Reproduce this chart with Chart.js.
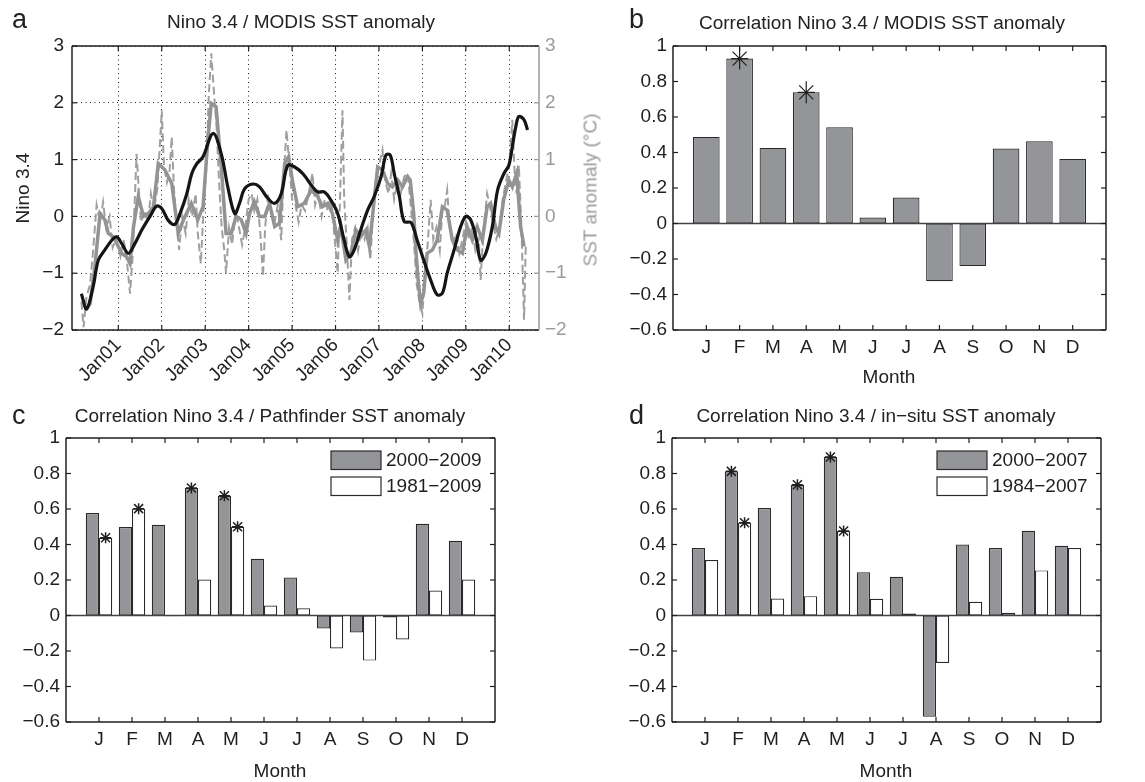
<!DOCTYPE html>
<html>
<head>
<meta charset="utf-8">
<title>Nino 3.4 and SST anomaly correlations</title>
<script src="https://cdn.jsdelivr.net/npm/chart.js@4.4.1/dist/chart.umd.min.js"></script>
<style>
  html, body { margin: 0; padding: 0; background: #fff; }
  #fig { position: relative; width: 1145px; height: 782px; overflow: hidden;
         font-family: "Liberation Sans", Arial, sans-serif; color: #222; }
  #fig canvas { position: absolute; left: 0; top: 0; }
  .txt { position: absolute; white-space: nowrap; font-size: 19px; line-height: 1; }
  .ctr { transform: translateX(-50%); }
  .letter { position: absolute; font-size: 27px; line-height: 1; }
  .vert { position: absolute; white-space: nowrap; font-size: 19px; line-height: 1;
          transform: translate(-50%, -50%) rotate(-90deg); }
</style>
</head>
<body>
<div id="fig">
  <canvas id="cA" width="1145" height="782"></canvas>
  <canvas id="cB" width="1145" height="782"></canvas>
  <canvas id="cC" width="1145" height="782"></canvas>
  <canvas id="cD" width="1145" height="782"></canvas>

  <div class="letter" style="left:12px; top:6px;">a</div>
  <div class="letter" style="left:629px; top:6px;">b</div>
  <div class="letter" style="left:12px; top:402px;">c</div>
  <div class="letter" style="left:629px; top:402px;">d</div>

  <div class="txt ctr" style="left:301px; top:12px;">Nino 3.4 / MODIS SST anomaly</div>
  <div class="txt ctr" style="left:882px; top:13px;">Correlation Nino 3.4 / MODIS SST anomaly</div>
  <div class="txt ctr" style="left:270px; top:406px;">Correlation Nino 3.4 / Pathfinder SST anomaly</div>
  <div class="txt ctr" style="left:876px; top:406px;">Correlation Nino 3.4 / in&minus;situ SST anomaly</div>

  <div class="vert" style="left:21.5px; top:188px;">Nino 3.4</div>
  <div class="vert" style="left:590px; top:190px; color:#9a9a9a;">SST anomaly (&deg;C)</div>

  <div class="txt ctr" style="left:889px; top:367px;">Month</div>
  <div class="txt ctr" style="left:280px; top:761px;">Month</div>
  <div class="txt ctr" style="left:886px; top:761px;">Month</div>
</div>

<script>
// ---------- panel a: time series ----------
const yearLabels = ['Jan01','Jan02','Jan03','Jan04','Jan05','Jan06','Jan07','Jan08','Jan09','Jan10'];
const yearTicks  = [2001, 2002, 2003, 2004, 2005, 2006, 2007, 2008, 2009, 2010];
const anomTicks  = [-2, -1, 0, 1, 2, 3];

// Nino 3.4 index (decimal year, value)
const ninoT = [2000.15,2000.27,2000.42,2000.54,2000.69,2000.85,2000.96,2001.08,2001.23,2001.38,
               2001.54,2001.73,2001.88,2002.00,2002.15,2002.30,2002.42,2002.57,2002.69,2002.80,
               2002.95,2003.18,2003.37,2003.52,2003.68,2003.79,2003.91,2004.10,2004.25,2004.44,
               2004.60,2004.75,2004.90,2005.06,2005.25,2005.47,2005.59,2005.74,2005.89,2006.05,
               2006.20,2006.32,2006.43,2006.58,2006.74,2006.89,2007.05,2007.16,2007.26,2007.35,
               2007.47,2007.58,2007.74,2007.88,2008.03,2008.19,2008.34,2008.46,2008.57,2008.73,
               2008.88,2009.00,2009.11,2009.23,2009.34,2009.46,2009.61,2009.73,2009.88,2009.99,
               2010.07,2010.15,2010.22,2010.34,2010.42];
const ninoV = [-1.36,-1.63,-1.24,-0.77,-0.59,-0.42,-0.36,-0.48,-0.65,-0.48,
               -0.24,0.00,0.18,0.14,-0.07,-0.14,0.05,0.38,0.75,0.92,
               1.05,1.46,1.10,0.52,0.05,0.23,0.49,0.57,0.52,0.32,
               0.23,0.40,0.90,0.87,0.75,0.52,0.43,0.43,0.29,0.05,
               -0.42,-0.71,-0.59,-0.24,0.11,0.35,0.70,1.08,1.08,0.76,
               0.35,-0.09,-0.11,-0.42,-0.77,-1.12,-1.38,-1.35,-1.00,-0.59,
               -0.18,0.00,-0.06,-0.36,-0.77,-0.65,-0.18,0.46,0.76,0.90,
               1.23,1.58,1.76,1.70,1.52];

// MODIS SST anomaly, smoothed (decimal year, degC)
const sstT = [2000.25,2000.35,2000.46,2000.58,2000.69,2000.77,2000.89,2001.00,2001.08,2001.19,
              2001.27,2001.35,2001.46,2001.58,2001.69,2001.81,2001.92,2002.07,2002.23,2002.38,
              2002.50,2002.68,2002.83,2002.95,2003.06,2003.14,2003.25,2003.37,2003.48,2003.60,
              2003.71,2003.83,2003.94,2004.02,2004.13,2004.25,2004.37,2004.48,2004.60,2004.71,
              2004.83,2004.92,2005.02,2005.13,2005.28,2005.44,2005.59,2005.70,2005.82,2005.93,
              2006.05,2006.12,2006.24,2006.35,2006.47,2006.58,2006.70,2006.78,2006.89,2006.97,
              2007.08,2007.20,2007.31,2007.43,2007.54,2007.66,2007.72,2007.80,2007.85,2007.90,
              2007.96,2008.03,2008.11,2008.23,2008.34,2008.46,2008.57,2008.69,2008.80,2008.92,
              2009.03,2009.15,2009.26,2009.38,2009.49,2009.57,2009.68,2009.76,2009.87,2009.99,
              2010.07,2010.17,2010.26,2010.34];
const sstV = [-1.65,-1.54,-0.89,0.05,-0.06,-0.30,-0.36,-0.53,-0.65,-0.71,
              -0.83,-0.18,0.35,0.00,0.05,0.17,0.93,0.82,0.58,-0.30,
              -0.06,0.23,-0.06,0.17,1.34,1.99,1.93,0.87,-0.30,-0.30,
              0.00,-0.06,-0.30,0.05,0.26,0.00,0.00,0.23,-0.18,-0.12,
              0.93,1.05,0.58,0.17,0.23,0.46,0.35,0.17,0.23,0.05,
              -0.42,-0.18,-0.77,-0.65,-0.24,-0.36,-0.24,-0.53,0.29,0.87,
              0.82,0.58,0.52,0.64,0.52,0.70,0.64,0.05,-0.60,-1.10,
              -1.53,-1.35,-0.65,-0.59,-0.42,0.17,0.11,-0.42,-0.59,-0.65,
              -0.18,-0.42,-0.18,-0.42,0.17,0.23,-0.18,-0.30,0.29,0.64,
              0.52,0.76,-0.18,-0.53];

// MODIS SST anomaly, unsmoothed (decimal year, degC)
const rawT = [2000.15,2000.20,2000.27,2000.35,2000.42,2000.50,2000.58,2000.65,2000.72,2000.80,
              2000.87,2000.95,2001.05,2001.12,2001.20,2001.27,2001.33,2001.38,2001.42,2001.47,
              2001.52,2001.60,2001.68,2001.75,2001.82,2001.90,2001.96,2002.00,2002.05,2002.12,
              2002.18,2002.23,2002.28,2002.35,2002.40,2002.47,2002.55,2002.62,2002.70,2002.78,
              2002.83,2002.90,2002.96,2003.03,2003.08,2003.14,2003.20,2003.26,2003.32,2003.38,
              2003.44,2003.48,2003.55,2003.62,2003.70,2003.78,2003.85,2003.92,2004.00,2004.07,
              2004.13,2004.20,2004.27,2004.33,2004.38,2004.45,2004.52,2004.60,2004.67,2004.75,
              2004.80,2004.87,2004.93,2005.00,2005.08,2005.15,2005.22,2005.30,2005.38,2005.47,
              2005.53,2005.60,2005.68,2005.75,2005.82,2005.90,2005.97,2006.05,2006.10,2006.16,
              2006.20,2006.26,2006.32,2006.38,2006.45,2006.52,2006.60,2006.67,2006.74,2006.80,
              2006.86,2006.92,2007.00,2007.08,2007.15,2007.22,2007.28,2007.35,2007.42,2007.50,
              2007.58,2007.66,2007.72,2007.80,2007.87,2007.93,2008.00,2008.06,2008.12,2008.19,
              2008.25,2008.32,2008.40,2008.46,2008.52,2008.57,2008.63,2008.70,2008.78,2008.85,
              2008.92,2009.00,2009.07,2009.14,2009.22,2009.30,2009.34,2009.40,2009.49,2009.55,
              2009.62,2009.70,2009.78,2009.85,2009.92,2010.00,2010.07,2010.12,2010.17,2010.22,
              2010.28,2010.34,2010.38];
const rawV = [-1.50,-1.95,-1.40,-1.20,-0.60,0.20,-0.10,0.25,-0.20,0.00,
              -0.55,-0.40,-0.70,-0.40,-0.80,-1.36,-0.70,0.30,1.10,0.50,
              -0.10,0.10,-0.10,0.40,0.10,0.50,1.30,1.87,0.90,0.60,
              0.80,1.40,0.50,-0.20,-0.59,0.00,-0.30,0.30,0.00,0.40,
              -0.30,-0.83,0.10,0.90,2.10,2.87,2.20,1.60,0.60,-0.20,
              -0.60,-1.00,-0.20,-0.50,0.10,-0.20,-0.50,-0.20,0.30,0.40,
              0.10,0.30,-0.30,-1.06,-0.20,0.40,0.10,-0.10,0.20,-0.42,
              0.60,1.52,1.00,0.30,0.20,-0.10,0.20,0.10,0.40,0.76,
              0.20,0.40,0.00,0.30,0.10,0.30,-0.30,-1.00,0.20,1.87,
              0.30,-0.50,-1.47,-0.40,-0.20,-0.60,-0.20,-0.40,-0.20,-0.77,
              0.00,0.60,0.90,1.17,0.60,0.40,0.75,0.30,0.60,0.40,
              0.70,0.76,0.30,-0.40,-1.20,-1.50,-1.71,-1.00,-0.50,0.29,
              -0.40,-0.20,-0.60,0.10,0.20,0.46,-0.20,-0.50,-0.30,-0.65,
              -0.40,-0.10,-0.40,-0.20,-0.60,-0.40,-1.12,-0.30,0.40,0.20,
              -0.10,-0.40,-0.20,0.30,0.60,0.90,1.70,0.80,0.40,0.90,
              -0.20,-1.82,-0.50];

// ---------- panels b-d: monthly correlations ----------
const months    = ['J','F','M','A','M','J','J','A','S','O','N','D'];
const corrTicks = [-0.6, -0.4, -0.2, 0, 0.2, 0.4, 0.6, 0.8, 1];

const corrModis      = [0.488, 0.929, 0.426, 0.739, 0.542, 0.034, 0.146, -0.325, -0.240, 0.422, 0.463, 0.364];
const sigModis       = [1, 3];

const corrPath0009   = [0.577, 0.498, 0.511, 0.718, 0.675, 0.320, 0.214, -0.073, -0.096, -0.011, 0.517, 0.421];
const corrPath8109   = [0.438, 0.602, -0.004, 0.203, 0.500, 0.056, 0.041, -0.186, -0.254, -0.135, 0.141, 0.203];
const sigPath0009    = [3, 4];
const sigPath8109    = [0, 1, 4];

const corrInsitu0007 = [0.380, 0.812, 0.605, 0.737, 0.893, 0.244, 0.218, -0.570, 0.400, 0.380, 0.477, 0.393];
const corrInsitu8407 = [0.312, 0.523, 0.096, 0.109, 0.476, 0.094, 0.011, -0.267, 0.077, 0.015, 0.254, 0.380];
const sigInsitu0007  = [1, 3, 4];
const sigInsitu8407  = [1, 4];

// ---------- shared styling ----------
const FONT = '"Liberation Sans", Arial, sans-serif';
const INK = '#1f1f1f';
const GREY_AXIS = '#9a9a9a';
const BAR_GREY = '#939598';
const BAR_EDGE = '#2a2a2a';

Chart.defaults.font.family = FONT;
Chart.defaults.font.size = 19;
Chart.defaults.color = INK;

function fmtTick(v) {
  const r = Math.round(v * 10) / 10;
  const s = Number.isInteger(r) ? String(r) : r.toFixed(1);
  return s.replace('-', '\u2212');
}
function pairs(ts, vs) { return ts.map((t, i) => ({ x: t, y: vs[i] })); }
function monthly(vs) { return vs.map((v, i) => ({ x: i + 1, y: v })); }

function seg(ctx, x1, y1, x2, y2, color, w) {
  ctx.strokeStyle = color; ctx.lineWidth = w;
  ctx.beginPath(); ctx.moveTo(x1, y1); ctx.lineTo(x2, y2); ctx.stroke();
}

function asterisk(ctx, x, y, s) {
  ctx.strokeStyle = INK; ctx.lineWidth = s.w;
  ctx.beginPath();
  ctx.moveTo(x, y - s.v); ctx.lineTo(x, y + s.v);
  ctx.moveTo(x - s.h, y); ctx.lineTo(x + s.h, y);
  ctx.moveTo(x - s.d, y - s.d); ctx.lineTo(x + s.d, y + s.d);
  ctx.moveTo(x - s.d, y + s.d); ctx.lineTo(x + s.d, y - s.d);
  ctx.stroke();
}

// Axes box with inward ticks, zero baseline, significance asterisks and legend
const axesDeco = {
  id: 'axesDeco',
  afterDatasetsDraw(chart, args, o) {
    const { ctx, chartArea: a, scales } = chart;
    const L = 5;
    ctx.save();
    ctx.lineCap = 'butt';
    if (o.zero) {
      const y0 = scales.y.getPixelForValue(0);
      seg(ctx, a.left, y0, a.right, y0, o.zero, 1.5);
    }
    scales.x.ticks.forEach(t => {
      const x = scales.x.getPixelForValue(t.value);
      seg(ctx, x, a.bottom, x, a.bottom - L, INK, 1.2);
      seg(ctx, x, a.top, x, a.top + L, INK, 1.2);
    });
    scales.y.ticks.forEach(t => {
      const y = scales.y.getPixelForValue(t.value);
      seg(ctx, a.left, y, a.left + L, y, INK, 1.2);
    });
    const rScale = scales.y2 || scales.y;
    const rColor = o.rightColor || INK;
    rScale.ticks.forEach(t => {
      const y = rScale.getPixelForValue(t.value);
      seg(ctx, a.right, y, a.right - L, y, rColor, 1.2);
    });
    seg(ctx, a.left, a.top, a.right, a.top, INK, 1.5);
    seg(ctx, a.left, a.bottom, a.right, a.bottom, INK, 1.5);
    seg(ctx, a.left, a.top, a.left, a.bottom, INK, 1.5);
    seg(ctx, a.right, a.top, a.right, a.bottom, rColor, 1.5);

    if (o.star) {
      chart.data.datasets.forEach((ds, di) => {
        if (!ds.sig) return;
        const meta = chart.getDatasetMeta(di);
        ds.sig.forEach(j => { const el = meta.data[j]; asterisk(ctx, el.x, el.y, o.star); });
      });
    }
    if (o.legend) {
      const x0 = a.right - 164;
      chart.data.datasets.forEach((ds, i) => {
        const y0 = a.top + 13 + i * 26;
        ctx.fillStyle = ds.backgroundColor;
        ctx.fillRect(x0, y0, 50, 18.5);
        ctx.strokeStyle = BAR_EDGE; ctx.lineWidth = 1.2;
        ctx.strokeRect(x0, y0, 50, 18.5);
        ctx.fillStyle = INK;
        ctx.font = '19px ' + FONT;
        ctx.textAlign = 'left'; ctx.textBaseline = 'middle';
        ctx.fillText(ds.label, x0 + 55, y0 + 9.5);
      });
    }
    ctx.restore();
  }
};
Chart.register(axesDeco);

// ---------- panel a ----------
new Chart(document.getElementById('cA'), {
  type: 'line',
  data: {
    datasets: [
      { label: 'Nino 3.4', data: pairs(ninoT, ninoV), yAxisID: 'y',
        borderColor: '#151515', borderWidth: 3.2, pointRadius: 0, tension: 0.35 },
      { label: 'SST anomaly', data: pairs(sstT, sstV), yAxisID: 'y2',
        borderColor: '#939393', borderWidth: 3.5, pointRadius: 0, tension: 0 },
      { label: 'SST anomaly (raw)', data: pairs(rawT, rawV), yAxisID: 'y2',
        borderColor: '#9f9f9f', borderWidth: 2, borderDash: [8, 4], pointRadius: 0, tension: 0 }
    ]
  },
  options: {
    responsive: false, animation: false, devicePixelRatio: 1,
    layout: { padding: { left: 32, right: 566, top: 46, bottom: 392 } },
    plugins: { legend: { display: false }, tooltip: { enabled: false },
               axesDeco: { rightColor: GREY_AXIS } },
    scales: {
      x: { type: 'linear', min: 1999.934, max: 2010.684,
           afterBuildTicks: s => { s.ticks = yearTicks.map(v => ({ value: v })); },
           afterFit: s => { s.height = 60; },
           grid: { display: true, drawTicks: false, color: '#222', lineWidth: 1 },
           border: { display: false, dash: [1, 3.5] },
           ticks: { autoSkip: false, minRotation: 45, maxRotation: 45, padding: 4,
                    callback: (v, i) => yearLabels[i] } },
      y: { position: 'left', min: -2, max: 3,
           afterBuildTicks: s => { s.ticks = anomTicks.map(v => ({ value: v })); },
           afterFit: s => { s.width = 40; },
           grid: { display: true, drawTicks: false, color: '#222', lineWidth: 1 },
           border: { display: false, dash: [1, 3.5] },
           ticks: { padding: 8, callback: v => fmtTick(v) } },
      y2: { position: 'right', min: -2, max: 3,
            afterBuildTicks: s => { s.ticks = anomTicks.map(v => ({ value: v })); },
            afterFit: s => { s.width = 40; },
            grid: { display: false, drawTicks: false },
            border: { display: false },
            ticks: { padding: 6, color: GREY_AXIS, callback: v => fmtTick(v) } }
    }
  }
});

// ---------- panels b, c, d ----------
function corrChart(id, padding, datasets, star, legend) {
  return new Chart(document.getElementById(id), {
    type: 'bar',
    data: { datasets },
    options: {
      responsive: false, animation: false, devicePixelRatio: 1,
      layout: { padding },
      datasets: { bar: { categoryPercentage: 0.8, barPercentage: 1.0, borderSkipped: false } },
      plugins: { legend: { display: false }, tooltip: { enabled: false },
                 axesDeco: { zero: '#444', star, legend } },
      scales: {
        x: { type: 'linear', min: 0, max: 13, offset: false,
             afterBuildTicks: s => { s.ticks = months.map((m, i) => ({ value: i + 1 })); },
             afterFit: s => { s.height = 40; },
             grid: { display: false, drawTicks: false, offset: false },
             border: { display: false },
             ticks: { autoSkip: false, maxRotation: 0, padding: 6,
                      callback: v => months[Math.round(v) - 1] } },
        y: { min: -0.6, max: 1,
             afterBuildTicks: s => { s.ticks = corrTicks.map(v => ({ value: v })); },
             afterFit: s => { s.width = 60; },
             grid: { display: false, drawTicks: false },
             border: { display: false },
             ticks: { padding: 6, callback: v => fmtTick(v) } }
      }
    }
  });
}

const bigStar = { v: 11, h: 8.5, d: 7, w: 1.2 };
const smallStar = { v: 5.5, h: 5.5, d: 4.5, w: 1.5 };

corrChart('cB', { left: 613, right: 39, top: 46, bottom: 412 }, [
  { label: 'MODIS', data: monthly(corrModis), sig: sigModis,
    backgroundColor: BAR_GREY, borderColor: BAR_EDGE, borderWidth: 1.2 }
], bigStar, false);

corrChart('cC', { left: 6, right: 650, top: 438, bottom: 20 }, [
  { label: '2000\u22122009', data: monthly(corrPath0009), sig: sigPath0009,
    backgroundColor: BAR_GREY, borderColor: BAR_EDGE, borderWidth: 1.2 },
  { label: '1981\u22122009', data: monthly(corrPath8109), sig: sigPath8109,
    backgroundColor: '#ffffff', borderColor: BAR_EDGE, borderWidth: 1.2 }
], smallStar, true);

corrChart('cD', { left: 612, right: 44, top: 438, bottom: 20 }, [
  { label: '2000\u22122007', data: monthly(corrInsitu0007), sig: sigInsitu0007,
    backgroundColor: BAR_GREY, borderColor: BAR_EDGE, borderWidth: 1.2 },
  { label: '1984\u22122007', data: monthly(corrInsitu8407), sig: sigInsitu8407,
    backgroundColor: '#ffffff', borderColor: BAR_EDGE, borderWidth: 1.2 }
], smallStar, true);
</script>
</body>
</html>
